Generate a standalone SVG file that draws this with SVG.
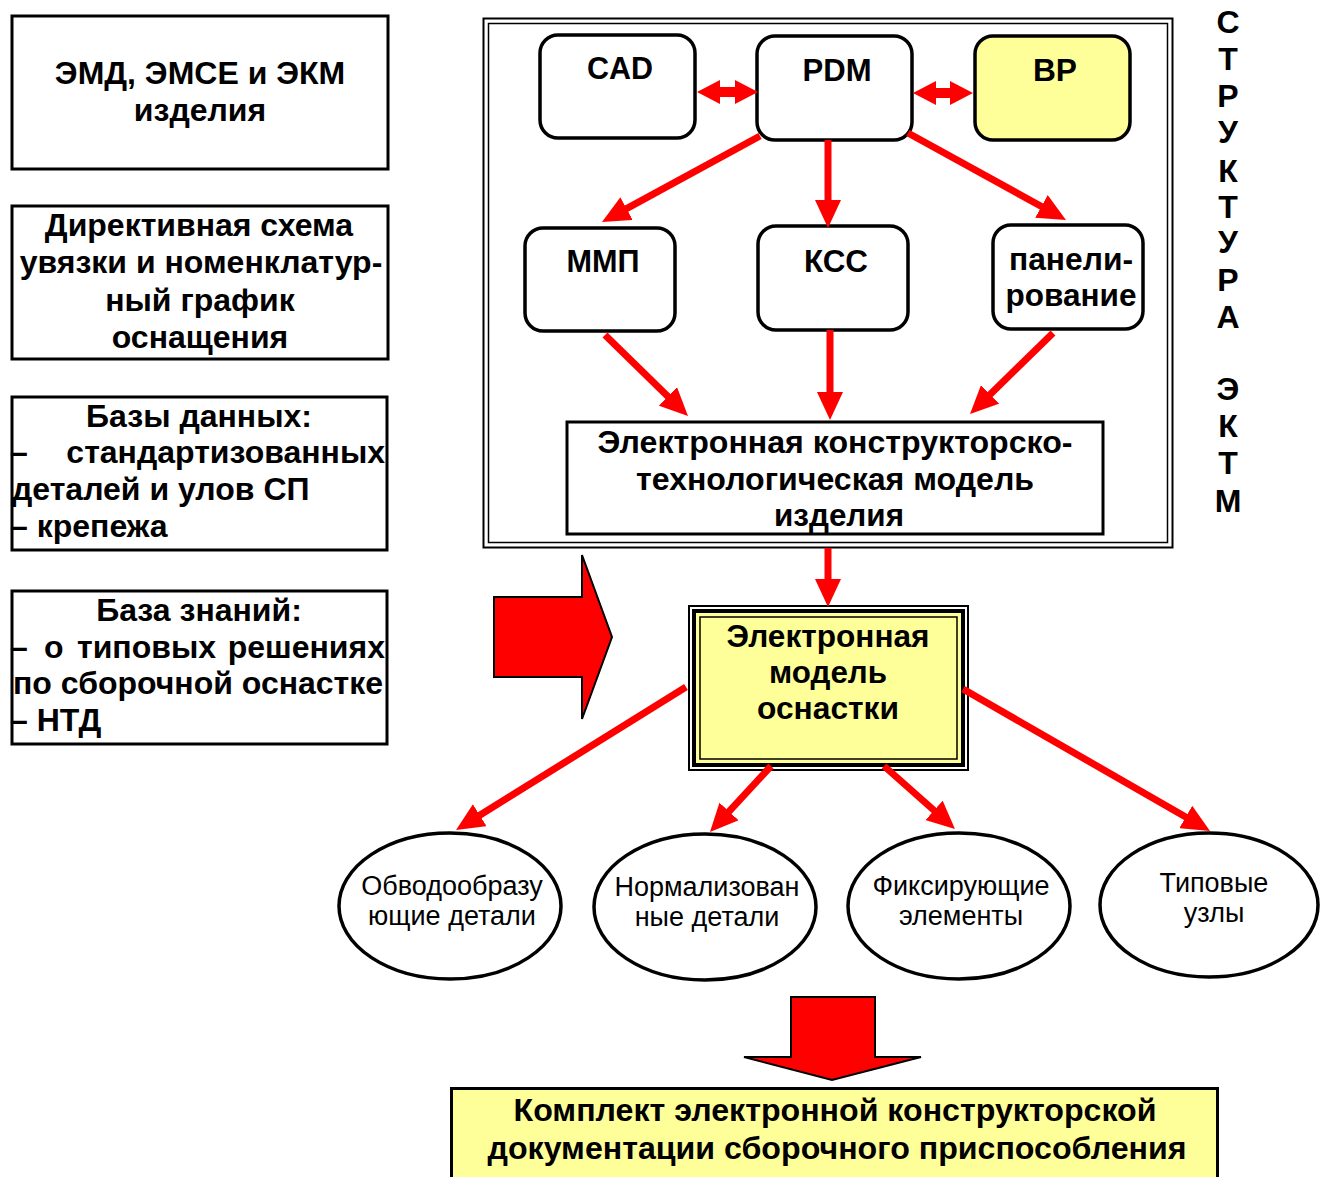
<svg xmlns="http://www.w3.org/2000/svg" width="1321" height="1177" viewBox="0 0 1321 1177">
<style>
.b{font-family:"Liberation Sans",Arial,sans-serif;font-weight:bold;font-size:32px;fill:#000}
.n{font-family:"Liberation Sans",Arial,sans-serif;font-size:27px;fill:#000}
.box{fill:#fff;stroke:#000;stroke-width:3}
.rbox{fill:#fff;stroke:#000;stroke-width:3.5}
.ell{fill:#fff;stroke:#000;stroke-width:3.5}
.arr{stroke:#ff0000;stroke-width:7;fill:none;marker-end:url(#ah)}
.blk{fill:#ff0000;stroke:#000;stroke-width:2}
</style>
<defs>
<marker id="ah" markerUnits="userSpaceOnUse" markerWidth="28" markerHeight="26" viewBox="0 0 28 26" refX="10" refY="13" orient="auto">
<path d="M0,0 L28,13 L0,26 z" fill="#ff0000"/>
</marker>
</defs>
<rect width="1321" height="1177" fill="#fff"/>

<g id="emd">
<rect class="box" x="12" y="16" width="376" height="153"/>
<text class="b" x="200" y="84" text-anchor="middle">ЭМД, ЭМСЕ и ЭКМ</text>
<text class="b" x="200" y="121" text-anchor="middle">изделия</text>
</g>
<g id="directive">
<rect class="box" x="12" y="206" width="376" height="153"/>
<text class="b" x="199" y="236" text-anchor="middle">Директивная схема</text>
<text class="b" x="201" y="273" text-anchor="middle">увязки и номенклатур-</text>
<text class="b" x="200" y="311" text-anchor="middle">ный график</text>
<text class="b" x="200" y="348" text-anchor="middle">оснащения</text>
</g>
<g id="databases">
<rect class="box" x="12" y="397" width="375" height="153"/>
<text class="b" x="199" y="427" text-anchor="middle">Базы данных:</text>
<text class="b" x="10" y="463">–</text>
<text class="b" x="385" y="463" text-anchor="end">стандартизованных</text>
<text class="b" x="12" y="500">деталей и улов СП</text>
<text class="b" x="10" y="537">– крепежа</text>
</g>
<g id="knowledge">
<rect class="box" x="12" y="591" width="375" height="153"/>
<text class="b" x="199" y="621" text-anchor="middle">База знаний:</text>
<text class="b" x="10" y="658">–</text>
<text class="b" x="44" y="658">о</text>
<text class="b" x="77" y="658">типовых</text>
<text class="b" x="385" y="658" text-anchor="end">решениях</text>
<text class="b" x="13" y="694">по сборочной оснастке</text>
<text class="b" x="10" y="731">– НТД</text>
</g>

<g id="structure">
<rect x="483.5" y="18.5" width="689" height="529" fill="none" stroke="#000" stroke-width="2"/>
<rect x="488.5" y="23.5" width="679" height="519" fill="none" stroke="#000" stroke-width="1.5"/>
</g>

<g id="cad">
<rect class="rbox" x="540" y="35" width="155" height="103" rx="18"/>
<text class="b" x="620" y="79" text-anchor="middle" font-size="30" textLength="66" lengthAdjust="spacingAndGlyphs">CAD</text>
</g>
<g id="pdm">
<rect class="rbox" x="757" y="36" width="155" height="104" rx="18"/>
<text class="b" x="837" y="81" text-anchor="middle" font-size="30" textLength="69" lengthAdjust="spacingAndGlyphs">PDM</text>
</g>
<g id="vr">
<rect class="rbox" x="975" y="36" width="155" height="104" rx="18" style="fill:#ffff99"/>
<text class="b" x="1055" y="81" text-anchor="middle" font-size="30" textLength="44" lengthAdjust="spacingAndGlyphs">ВР</text>
</g>
<g id="mmp">
<rect class="rbox" x="525" y="228" width="150" height="103" rx="18"/>
<text class="b" x="603" y="272" text-anchor="middle" font-size="30" textLength="73" lengthAdjust="spacingAndGlyphs">ММП</text>
</g>
<g id="kss">
<rect class="rbox" x="758" y="226" width="150" height="104" rx="18"/>
<text class="b" x="836" y="272" text-anchor="middle" font-size="30" textLength="64" lengthAdjust="spacingAndGlyphs">КСС</text>
</g>
<g id="panel">
<rect class="rbox" x="993" y="225" width="150" height="104" rx="18"/>
<text class="b" x="1071" y="270" text-anchor="middle" font-size="30" textLength="124" lengthAdjust="spacingAndGlyphs">панели-</text>
<text class="b" x="1071" y="306" text-anchor="middle" font-size="30" textLength="131" lengthAdjust="spacingAndGlyphs">рование</text>
</g>
<g id="ektm">
<rect class="box" x="567" y="422" width="536" height="112"/>
<text class="b" x="835" y="453" text-anchor="middle" font-size="31" textLength="475" lengthAdjust="spacingAndGlyphs">Электронная конструкторско-</text>
<text class="b" x="835" y="490" text-anchor="middle" font-size="31" textLength="398" lengthAdjust="spacingAndGlyphs">технологическая модель</text>
<text class="b" x="839" y="526" text-anchor="middle" font-size="31" textLength="130" lengthAdjust="spacingAndGlyphs">изделия</text>
</g>

<g id="model">
<rect x="689" y="606" width="279" height="164" fill="#fff" stroke="#000" stroke-width="2"/>
<rect x="694" y="611" width="269" height="154" fill="#ffff99" stroke="#000" stroke-width="4"/>
<rect x="700" y="617" width="257" height="142" fill="#ffff99" stroke="#000" stroke-width="1.5"/>
<text class="b" x="828" y="647" text-anchor="middle" font-size="31" textLength="203" lengthAdjust="spacingAndGlyphs">Электронная</text>
<text class="b" x="828" y="683" text-anchor="middle" font-size="31" textLength="118" lengthAdjust="spacingAndGlyphs">модель</text>
<text class="b" x="828" y="719" text-anchor="middle" font-size="31" textLength="142" lengthAdjust="spacingAndGlyphs">оснастки</text>
</g>

<g id="ell1">
<ellipse class="ell" cx="450" cy="906" rx="111" ry="73"/>
<text class="n" x="452" y="895" text-anchor="middle">Обводообразу</text>
<text class="n" x="452" y="925" text-anchor="middle">ющие детали</text>
</g>
<g id="ell2">
<ellipse class="ell" cx="705" cy="907" rx="111" ry="73"/>
<text class="n" x="707" y="896" text-anchor="middle">Нормализован</text>
<text class="n" x="707" y="926" text-anchor="middle">ные детали</text>
</g>
<g id="ell3">
<ellipse class="ell" cx="959" cy="906" rx="111" ry="73"/>
<text class="n" x="961" y="895" text-anchor="middle">Фиксирующие</text>
<text class="n" x="961" y="925" text-anchor="middle">элементы</text>
</g>
<g id="ell4">
<ellipse class="ell" cx="1209" cy="905" rx="109" ry="72"/>
<text class="n" x="1214" y="892" text-anchor="middle">Типовые</text>
<text class="n" x="1214" y="922" text-anchor="middle">узлы</text>
</g>

<g id="result">
<rect x="451.5" y="1088.5" width="766" height="100" fill="#ffff99" stroke="#000" stroke-width="3"/>
<text class="b" x="835" y="1121" text-anchor="middle" font-size="32" textLength="643" lengthAdjust="spacingAndGlyphs">Комплект электронной конструкторской</text>
<text class="b" x="837" y="1159" text-anchor="middle" font-size="32" textLength="699" lengthAdjust="spacingAndGlyphs">документации сборочного приспособления</text>
</g>

<g id="label">
<text class="b" x="1228" text-anchor="middle" font-size="29">
<tspan x="1228" y="33">С</tspan><tspan x="1228" y="70">Т</tspan><tspan x="1228" y="107">Р</tspan><tspan x="1228" y="143">У</tspan><tspan x="1228" y="182">К</tspan><tspan x="1228" y="218">Т</tspan><tspan x="1228" y="253">У</tspan><tspan x="1228" y="291">Р</tspan><tspan x="1228" y="328">А</tspan><tspan x="1228" y="400">Э</tspan><tspan x="1228" y="437">К</tspan><tspan x="1228" y="474">Т</tspan><tspan x="1228" y="512">М</tspan>
</text>
</g>

<g id="connectors">
<polygon fill="#ff0000" points="697,92 720,80 720,87 735,87 735,80 758,92 735,104 735,97 720,97 720,104"/>
<polygon fill="#ff0000" points="913,93 936,81 936,88 950,88 950,81 973,93 950,105 950,98 936,98 936,105"/>
<line class="arr" x1="760" y1="136" x2="617.8" y2="213.4"/>
<line class="arr" x1="828" y1="140" x2="828" y2="210"/>
<line class="arr" x1="908" y1="133" x2="1050.2" y2="211.3"/>
<line class="arr" x1="605" y1="335" x2="675.1" y2="403.4"/>
<line class="arr" x1="830" y1="330" x2="830" y2="402"/>
<line class="arr" x1="1053" y1="333" x2="982.9" y2="401.4"/>
<line class="arr" x1="828" y1="548" x2="828" y2="589"/>
<line class="arr" x1="686" y1="687" x2="471.3" y2="820.5"/>
<line class="arr" x1="771" y1="766" x2="722.2" y2="818.8"/>
<line class="arr" x1="884" y1="766" x2="941.5" y2="817"/>
<line class="arr" x1="963" y1="689" x2="1194.4" y2="822"/>
<polygon class="blk" points="494,597 582,597 582,555 612,637 582,719 582,677 494,677"/>
<polygon class="blk" points="791,997 875,997 875,1057 921,1057 832,1080 744,1057 791,1057"/>
</g>
</svg>
